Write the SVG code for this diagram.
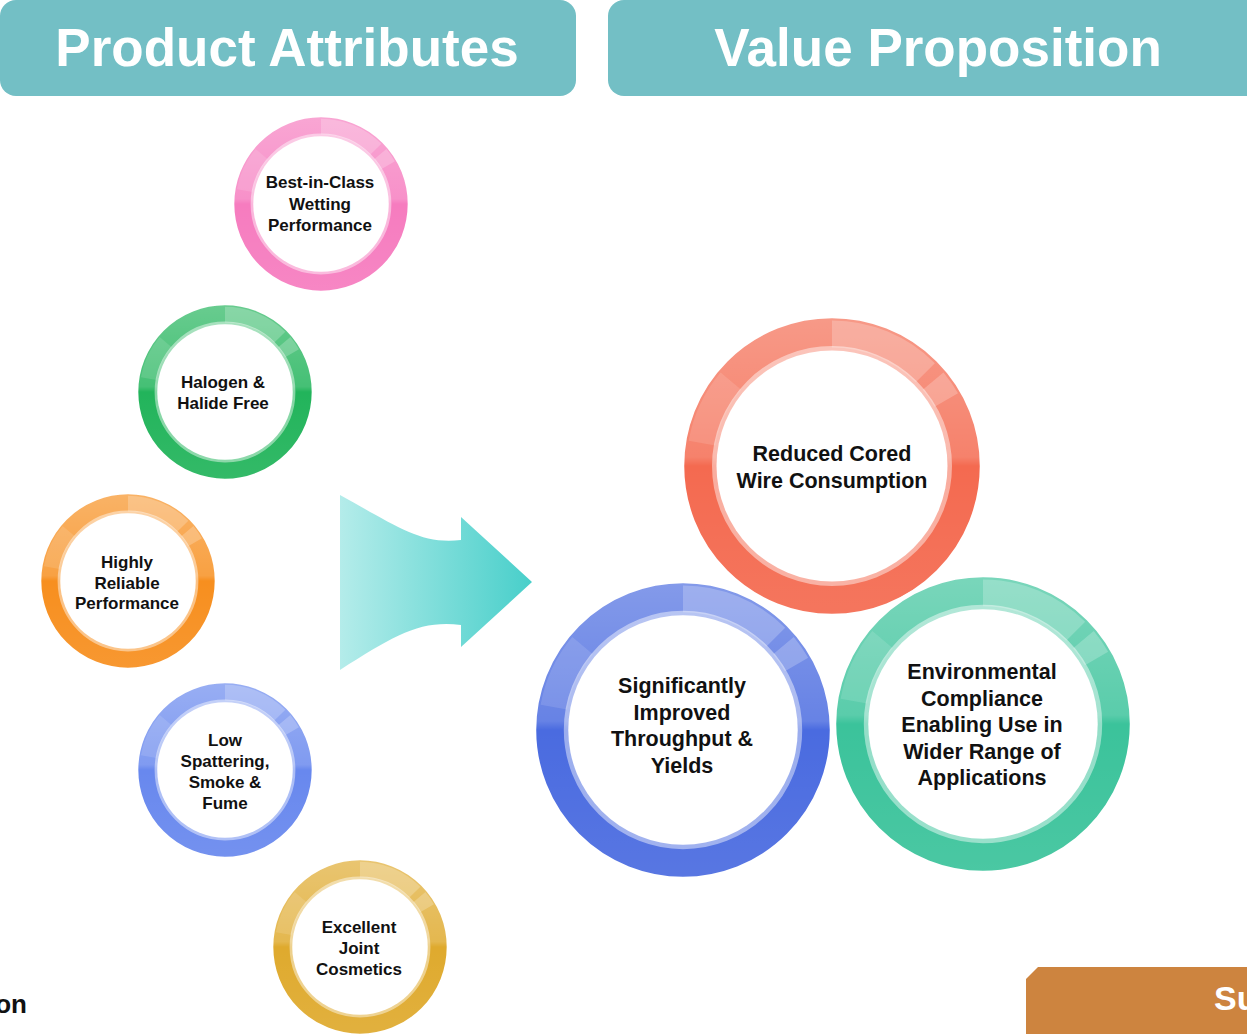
<svg xmlns="http://www.w3.org/2000/svg" xmlns:xlink="http://www.w3.org/1999/xlink" width="1247" height="1034" viewBox="0 0 1247 1034">
<style>
.hdr{fill:#73BFC5}
.hdrt{font-family:"Liberation Sans",Arial,sans-serif;font-weight:bold;font-size:53px;fill:#fff;text-anchor:middle}
.st{font-family:"Liberation Sans",Arial,sans-serif;font-weight:bold;font-size:17px;fill:#111;text-anchor:middle}
.bt{font-family:"Liberation Sans",Arial,sans-serif;font-weight:bold;font-size:21.5px;fill:#111;text-anchor:middle}
</style>
<defs>
<linearGradient id="gloss" x1="0" y1="0" x2="0" y2="1">
<stop offset="0" stop-color="#fff" stop-opacity="0.32"/>
<stop offset="0.47" stop-color="#fff" stop-opacity="0.16"/>
<stop offset="0.5" stop-color="#fff" stop-opacity="0"/>
<stop offset="1" stop-color="#fff" stop-opacity="0.08"/>
</linearGradient>
<linearGradient id="arrowGrad" x1="0" y1="0" x2="1" y2="0">
<stop offset="0" stop-color="#B4ECEA"/>
<stop offset="1" stop-color="#48CFCA"/>
</linearGradient>
<g id="ring">
<circle r="100" fill="currentColor" stroke="#fff" stroke-width="3"/>
<circle r="100" fill="url(#gloss)"/>
<path d="M0,-88 A88,88 0 0 1 62.2,-62.2" fill="none" stroke="#fff" stroke-opacity="0.22" stroke-width="18"/>
<path d="M67.4,-56.6 A88,88 0 0 1 76.2,-44" fill="none" stroke="#fff" stroke-opacity="0.22" stroke-width="18"/>
<path d="M-86.7,-15.3 A88,88 0 0 1 -67.4,-56.6" fill="none" stroke="#fff" stroke-opacity="0.12" stroke-width="18"/>
<circle r="77" fill="#fff" stroke="#fff" stroke-opacity="0.45" stroke-width="6"/>
</g>
</defs>
<rect width="1247" height="1034" fill="#fff"/>

<g id="header-left">
<rect class="hdr" x="0" y="0" width="576" height="96" rx="16"/>
<text class="hdrt" x="287" y="66">Product Attributes</text>
</g>
<g id="header-right">
<rect class="hdr" x="608" y="0" width="660" height="96" rx="16"/>
<text class="hdrt" x="938" y="66">Value Proposition</text>
</g>

<g id="connectors">
<path d="M340,495 C395,525 420,545 461,540 L461,517 L532,582 L461,647 L461,625 C420,620 395,635 340,670 Z" fill="url(#arrowGrad)"/>
</g>

<g id="n-wetting">
<use xlink:href="#ring" href="#ring" transform="translate(321,204) scale(0.88)" color="#F67CBF"/>
<text class="st" x="320" y="188">Best-in-Class</text>
<text class="st" x="320" y="209.5">Wetting</text>
<text class="st" x="320" y="231">Performance</text>
</g>
<g id="n-halogen">
<use xlink:href="#ring" href="#ring" transform="translate(225,392) scale(0.88)" color="#22B45B"/>
<text class="st" x="223" y="388">Halogen &amp;</text>
<text class="st" x="223" y="408.5">Halide Free</text>
</g>
<g id="n-reliable">
<use xlink:href="#ring" href="#ring" transform="translate(128,581) scale(0.88)" color="#F78F1F"/>
<text class="st" x="127" y="568">Highly</text>
<text class="st" x="127" y="588.5">Reliable</text>
<text class="st" x="127" y="609">Performance</text>
</g>
<g id="n-spatter">
<use xlink:href="#ring" href="#ring" transform="translate(225,770) scale(0.88)" color="#6888EE"/>
<text class="st" x="225" y="746">Low</text>
<text class="st" x="225" y="767">Spattering,</text>
<text class="st" x="225" y="788">Smoke &amp;</text>
<text class="st" x="225" y="809">Fume</text>
</g>
<g id="n-cosmetics">
<use xlink:href="#ring" href="#ring" transform="translate(360,947) scale(0.88)" color="#DFAA2E"/>
<text class="st" x="359" y="933">Excellent</text>
<text class="st" x="359" y="954">Joint</text>
<text class="st" x="359" y="975">Cosmetics</text>
</g>

<g id="v-consumption">
<use xlink:href="#ring" href="#ring" transform="translate(832,466) scale(1.5)" color="#F46A50"/>
<text class="bt" x="832" y="460.5">Reduced Cored</text>
<text class="bt" x="832" y="487.5">Wire Consumption</text>
</g>
<g id="v-throughput">
<use xlink:href="#ring" href="#ring" transform="translate(683,730) scale(1.49)" color="#4A6BE0"/>
<text class="bt" x="682" y="693">Significantly</text>
<text class="bt" x="682" y="719.5">Improved</text>
<text class="bt" x="682" y="746">Throughput &amp;</text>
<text class="bt" x="682" y="772.5">Yields</text>
</g>
<g id="v-environment">
<use xlink:href="#ring" href="#ring" transform="translate(983,724) scale(1.49)" color="#3BC39B"/>
<text class="bt" x="982" y="679">Environmental</text>
<text class="bt" x="982" y="705.5">Compliance</text>
<text class="bt" x="982" y="732">Enabling Use in</text>
<text class="bt" x="982" y="758.5">Wider Range of</text>
<text class="bt" x="982" y="785">Applications</text>
</g>

<g id="footer-left">
<text x="27" y="1013" font-family="Liberation Sans, Arial, sans-serif" font-weight="bold" font-size="26" fill="#111" text-anchor="end">on</text>
</g>
<g id="footer-right">
<path d="M1038,967 L1247,967 L1247,1034 L1026,1034 L1026,979 Z" fill="#CD843F"/>
<text x="1214" y="1010" font-family="Liberation Sans, Arial, sans-serif" font-weight="bold" font-size="34" fill="#fff">Su</text>
</g>
</svg>
